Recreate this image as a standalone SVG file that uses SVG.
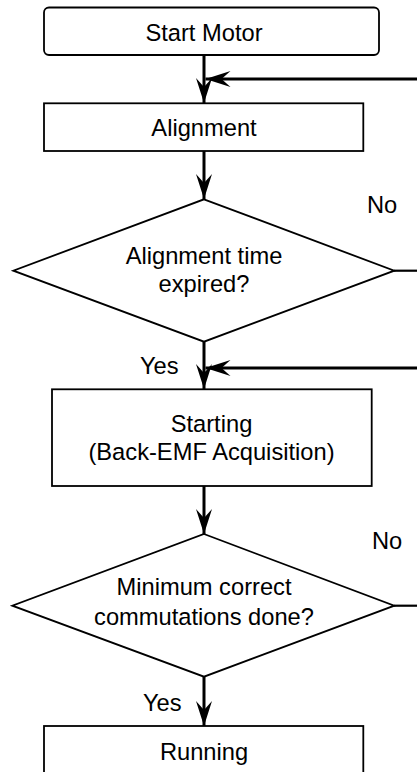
<svg xmlns="http://www.w3.org/2000/svg" width="417" height="772" viewBox="0 0 417 772">
<style>
.box{fill:#fff;stroke:#000;stroke-width:1.8}
.dia{fill:#fff;stroke:#000;stroke-width:1.8}
.t{font-family:"Liberation Sans",Arial,Helvetica,sans-serif;font-size:23.7px;fill:#000;text-anchor:middle}
.lbl{font-family:"Liberation Sans",Arial,Helvetica,sans-serif;font-size:23.7px;fill:#000}
.c{fill:none;stroke:#000;stroke-width:3}
.cl{fill:none;stroke:#000;stroke-width:2.2}
</style>
<defs>
<marker id="ah" markerUnits="userSpaceOnUse" markerWidth="30" markerHeight="20" viewBox="-26 -10 30 20" refX="0" refY="0" orient="auto">
<path d="M0,0 L-25,-8 L-16,0 L-25,8 Z" fill="#000"/>
</marker>
</defs>
<rect width="417" height="772" fill="#fff"/>
<g id="connectors">
<line class="c" x1="204" y1="55" x2="204" y2="103" marker-end="url(#ah)"/>
<line class="c" x1="420" y1="79" x2="205.5" y2="79" marker-end="url(#ah)"/>
<line class="c" x1="204" y1="151" x2="204" y2="199" marker-end="url(#ah)"/>
<line class="cl" x1="394" y1="270.7" x2="420" y2="270.7"/>
<line class="c" x1="204" y1="341.7" x2="204" y2="389" marker-end="url(#ah)"/>
<line class="c" x1="420" y1="368" x2="205.5" y2="368" marker-end="url(#ah)"/>
<line class="c" x1="204" y1="486" x2="204" y2="534" marker-end="url(#ah)"/>
<line class="cl" x1="394" y1="605.7" x2="420" y2="605.7"/>
<line class="c" x1="204" y1="676.7" x2="204" y2="726" marker-end="url(#ah)"/>
<text class="lbl" x="367" y="213">No</text>
<text class="lbl" x="140" y="373.5">Yes</text>
<text class="lbl" x="372" y="548.5">No</text>
<text class="lbl" x="143" y="711">Yes</text>
</g>
<g id="start">
<rect class="box" x="44" y="7.5" width="335" height="47.5" rx="5"/>
<text class="t" x="204" y="40.5">Start Motor</text>
</g>
<g id="alignment">
<rect class="box" x="44" y="103.3" width="319.3" height="47.7"/>
<text class="t" x="204" y="135.5">Alignment</text>
</g>
<g id="decision1">
<polygon class="dia" points="204,199.3 394.3,270.7 204,341.7 13.3,270.7"/>
<text class="t" x="204" y="264">Alignment time</text>
<text class="t" x="204" y="292">expired?</text>
</g>
<g id="starting">
<rect class="box" x="52" y="389.3" width="319.7" height="96.7"/>
<text class="t" x="211.5" y="432">Starting</text>
<text class="t" x="211.5" y="460">(Back-EMF Acquisition)</text>
</g>
<g id="decision2">
<polygon class="dia" points="204,534 394.3,605.7 204,676.7 12.3,605.7"/>
<text class="t" x="204" y="595">Minimum correct</text>
<text class="t" x="204" y="625">commutations done?</text>
</g>
<g id="running">
<rect class="box" x="44" y="726" width="319.3" height="60"/>
<text class="t" x="204" y="760">Running</text>
</g>
</svg>
